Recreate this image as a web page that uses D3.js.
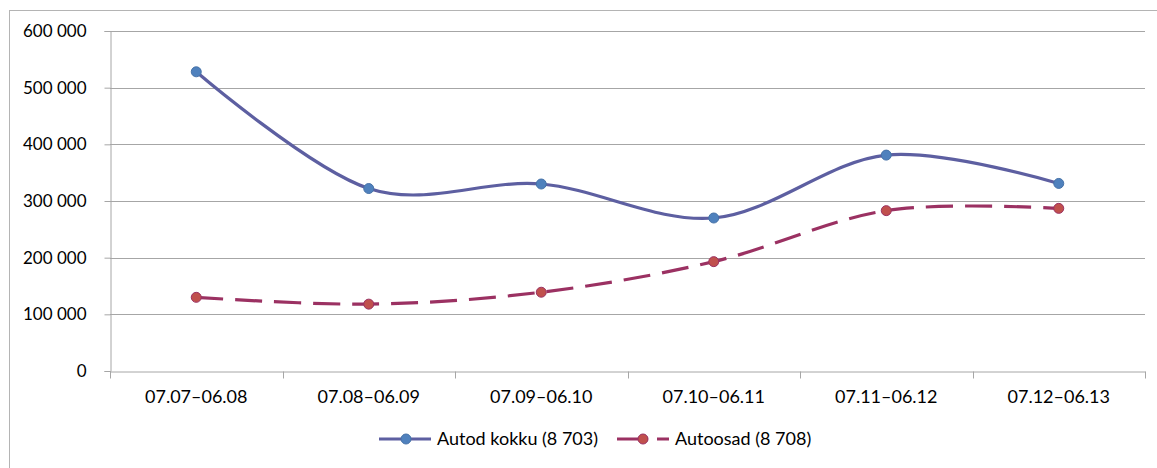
<!DOCTYPE html>
<html><head><meta charset="utf-8">
<script src="https://cdn.jsdelivr.net/npm/d3@7"></script>
<style>body{margin:0;background:#fff}svg{display:block}text{font-family:Lato,"Noto Sans",sans-serif;fill:#000}</style>
</head><body>
<svg id="c" width="1157" height="468"></svg>
<script>
const categories = ["07.07–06.08","07.08–06.09","07.09–06.10","07.10–06.11","07.11–06.12","07.12–06.13"];
const autodKokku = [528000, 322000, 330000, 270000, 381000, 331000];
const autoosad = [130000, 118000, 139000, 193000, 283000, 287000];
const yTicks = [0, 100000, 200000, 300000, 400000, 500000, 600000];
const seriesNames = ["Autod kokku (8 703)", "Autoosad (8 708)"];

const svg = d3.select("#c");
const L = 110, R = 1145, T = 31, B = 371;
const x = d3.scaleBand().domain(categories).range([L, R]);
const y = d3.scaleLinear().domain([0, 600000]).range([B, T]);
const fmt = v => d3.format(",")(v).replace(/,/g, " ");

svg.append("rect").attr("x", 9.5).attr("y", 10.5).attr("width", 1160).attr("height", 470)
  .attr("fill", "none").attr("stroke", "#b4b4b4");

// gridlines
svg.append("g").selectAll("line").data(yTicks.filter(d => d > 0)).join("line")
  .attr("x1", L).attr("x2", R).attr("y1", d => Math.round(y(d)) + 0.5).attr("y2", d => Math.round(y(d)) + 0.5)
  .attr("stroke", "#a6a6a6").attr("stroke-width", 1);

// y axis
const ya = svg.append("g").attr("transform", `translate(${L + 0.5},0)`)
  .call(d3.axisLeft(y).tickValues(yTicks).tickFormat(fmt).tickSize(6).tickPadding(18));
ya.select(".domain").attr("stroke", "#a6a6a6");
ya.selectAll(".tick line").attr("stroke", "#a6a6a6");
ya.selectAll(".tick text").style("font-size", "17px").attr("fill", "#000");

// x axis
const xa = svg.append("g").attr("transform", `translate(0,${B + 0.5})`)
  .call(d3.axisBottom(x).tickSize(0).tickPadding(19));
xa.select(".domain").attr("stroke", "#a6a6a6");
xa.selectAll(".tick text").style("font-size", "18px").attr("fill", "#000");
const bounds = categories.map(c => x(c)).concat([R]);
xa.selectAll(".bt").data(bounds).join("line").attr("class", "bt")
  .attr("x1", d => Math.round(d) + 0.5).attr("x2", d => Math.round(d) + 0.5).attr("y1", 0).attr("y2", 7)
  .attr("stroke", "#a6a6a6");

const cx = c => x(c) + x.bandwidth() / 2;
const line = d3.line().x((d, i) => cx(categories[i])).y(d => y(d)).curve(d3.curveCardinal.tension(0));

const series = [
  {vals: autodKokku, line: "#5D5FA1", fill: "#4F81BD", stroke: "#4672A8", dash: null},
  {vals: autoosad, line: "#9B3162", fill: "#C0504D", stroke: "#9B3162", dash: "27,12"}
];
series.forEach(s => {
  svg.append("path").attr("d", line(s.vals)).attr("fill", "none").attr("stroke", s.line)
    .attr("stroke-width", 3.2).attr("stroke-dasharray", s.dash);
  svg.append("g").selectAll("circle").data(s.vals).join("circle")
    .attr("cx", (d, i) => cx(categories[i])).attr("cy", d => y(d)).attr("r", 5)
    .attr("fill", s.fill).attr("stroke", s.stroke).attr("stroke-width", 1);
});

// legend
const lg = svg.append("g");
const ly = 439;
lg.append("line").attr("x1", 379).attr("x2", 431).attr("y1", ly).attr("y2", ly).attr("stroke", series[0].line).attr("stroke-width", 3.2);
lg.append("circle").attr("cx", 406).attr("cy", ly).attr("r", 5).attr("fill", series[0].fill).attr("stroke", series[0].stroke);
lg.append("text").attr("x", 437).attr("y", ly).attr("dy", "0.35em").style("font-size", "18px").text(seriesNames[0]);
lg.append("line").attr("x1", 617).attr("x2", 669).attr("y1", ly).attr("y2", ly).attr("stroke", series[1].line).attr("stroke-width", 3.2).attr("stroke-dasharray", "31,9,13");
lg.append("circle").attr("cx", 643).attr("cy", ly).attr("r", 5).attr("fill", series[1].fill).attr("stroke", series[1].stroke);
lg.append("text").attr("x", 675).attr("y", ly).attr("dy", "0.35em").style("font-size", "18px").text(seriesNames[1]);
</script>
</body></html>
